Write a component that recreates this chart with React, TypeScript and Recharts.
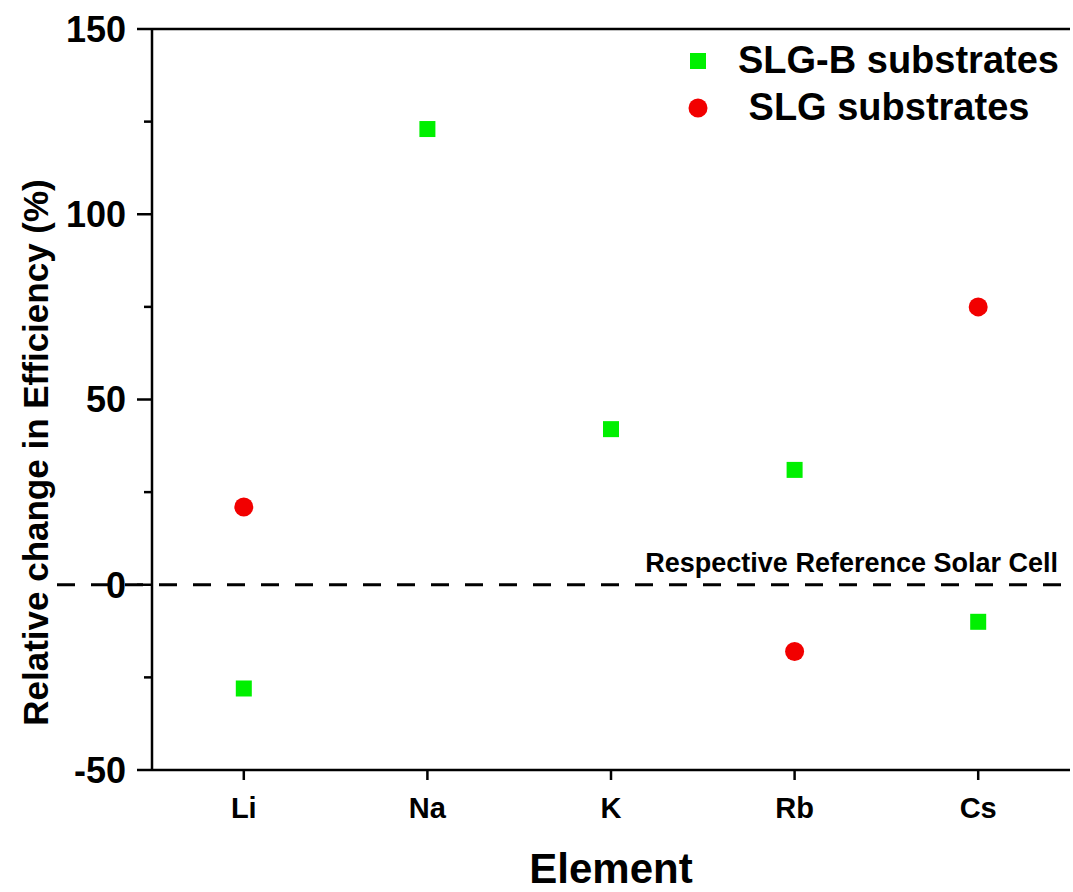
import { ScatterChart, Scatter, XAxis, YAxis, ReferenceLine, Legend } from 'recharts'

const elements = ['Li', 'Na', 'K', 'Rb', 'Cs']
const slgbValues = [-28, 123, 42, 31, -10]
const slgElements = ['Li', 'Rb', 'Cs']
const slgValues = [21, -18, 75]
const seriesNames = ['SLG-B substrates', ' SLG substrates']
const yTicks = [-50, -25, 0, 25, 50, 75, 100, 125, 150]
const yLabelled = [-50, 0, 50, 100, 150]

const slgbData = elements.map((el, i) => ({ el, v: slgbValues[i] }))
const slgData = slgElements.map((el, i) => ({ el, v: slgValues[i] }))

const FONT = '"Liberation Sans", Arial, sans-serif'
const GREEN = '#00f000'
const RED = '#f20000'

function YTick({ x, y, payload }: any) {
    const major = yLabelled.includes(payload.value)
    return (
        <g>
            <line x1={x - (major ? 15 : 8)} x2={x} y1={y} y2={y} stroke="#000" strokeWidth={2.5} />
            {major && (
                <text x={x - 26} y={y} dy="0.36em" textAnchor="end" fontSize={36} fontWeight="bold" fontFamily={FONT} fill="#000">
                    {payload.value}
                </text>
            )}
        </g>
    )
}

function XTick({ x, y, payload }: any) {
    return (
        <g>
            <line x1={x} x2={x} y1={y} y2={y + 10} stroke="#000" strokeWidth={2.5} />
            <text x={x} y={y + 38} dy="0.36em" textAnchor="middle" fontSize={29} fontWeight="bold" fontFamily={FONT} fill="#000">
                {payload.value}
            </text>
        </g>
    )
}

const Square = ({ cx, cy }: any) => <rect x={cx - 8} y={cy - 8} width={16} height={16} fill={GREEN} />
const Dot = ({ cx, cy }: any) => <circle cx={cx} cy={cy} r={9.5} fill={RED} />

function LegendBox({ payload }: any) {
    const items = [...(payload || [])].sort((a: any, b: any) => seriesNames.indexOf(a.value) - seriesNames.indexOf(b.value))
    return (
        <div style={{ fontFamily: FONT, fontWeight: 'bold', fontSize: 38 }}>
            {items.map((entry: any) => (
                <div key={entry.value} style={{ display: 'flex', alignItems: 'center', height: 47 }}>
                    <svg width={20} height={20}>
                        {entry.type === 'square'
                            ? <rect x={2} y={2} width={16} height={16} fill={entry.color} />
                            : <circle cx={10} cy={10} r={9.5} fill={entry.color} />}
                    </svg>
                    <span style={{ marginLeft: 30, whiteSpace: 'pre', color: '#000' }}>{entry.value}</span>
                </div>
            ))}
        </div>
    )
}

export default function App() {
    return (
        <div style={{ position: 'absolute', left: 0, top: 0, background: '#fff' }}>
            <ScatterChart width={1073} height={892} margin={{ top: 29, right: 3, bottom: 22, left: 0 }}>
                <XAxis
                    dataKey="el"
                    type="category"
                    allowDuplicatedCategory={false}
                    height={100}
                    axisLine={{ stroke: '#000', strokeWidth: 2.5 }}
                    tickLine={false}
                    tickSize={0}
                    tickMargin={0}
                    tick={<XTick />}
                    label={({ viewBox }: any) => (
                        <text x={viewBox.x + viewBox.width / 2} y={868} dy="0.36em" textAnchor="middle" fontSize={42} fontWeight="bold" fontFamily={FONT} fill="#000">
                            Element
                        </text>
                    )}
                />
                <YAxis
                    dataKey="v"
                    type="number"
                    domain={[-50, 150]}
                    ticks={yTicks}
                    interval={0}
                    width={152}
                    axisLine={{ stroke: '#000', strokeWidth: 2.5 }}
                    tickLine={false}
                    tickSize={0}
                    tickMargin={0}
                    tick={<YTick />}
                    label={({ viewBox }: any) => (
                        <text
                            x={35}
                            y={viewBox.y + viewBox.height / 2 + 53}
                            transform={`rotate(-90, 35, ${viewBox.y + viewBox.height / 2 + 53})`}
                            dy="0.36em"
                            textAnchor="middle"
                            fontSize={35}
                            fontWeight="bold"
                            fontFamily={FONT}
                            fill="#000"
                        >
                            Relative change in Efficiency (%)
                        </text>
                    )}
                />
                <YAxis yAxisId="right" orientation="right" type="number" domain={[-50, 150]} width={0} tick={false} tickLine={false} axisLine={{ stroke: '#000', strokeWidth: 2.5 }} />
                <ReferenceLine y={150} stroke="#000" strokeWidth={2.5} />
                <ReferenceLine
                    y={0}
                    stroke="#000"
                    strokeWidth={3}
                    strokeDasharray="18 16"
                    shape={(p: any) => <line x1={p.x1 - 95} y1={p.y1} x2={p.x2} y2={p.y2} stroke="#000" strokeWidth={3} strokeDasharray="18 16" />}
                    label={({ viewBox }: any) => (
                        <text x={viewBox.x + viewBox.width - 12} y={viewBox.y - 13} textAnchor="end" fontSize={27} fontWeight="bold" fontFamily={FONT} fill="#000">
                            Respective Reference Solar Cell
                        </text>
                    )}
                />
                <Legend
                    layout="horizontal"
                    verticalAlign="middle"
                    align="center"
                    wrapperStyle={{ left: 688, top: 37, width: 'auto' }}
                    content={<LegendBox />}
                />
                <Scatter name={seriesNames[0]} data={slgbData} fill={GREEN} legendType="square" shape={<Square />} isAnimationActive={false} />
                <Scatter name={seriesNames[1]} data={slgData} fill={RED} legendType="circle" shape={<Dot />} isAnimationActive={false} />
            </ScatterChart>
        </div>
    )
}
